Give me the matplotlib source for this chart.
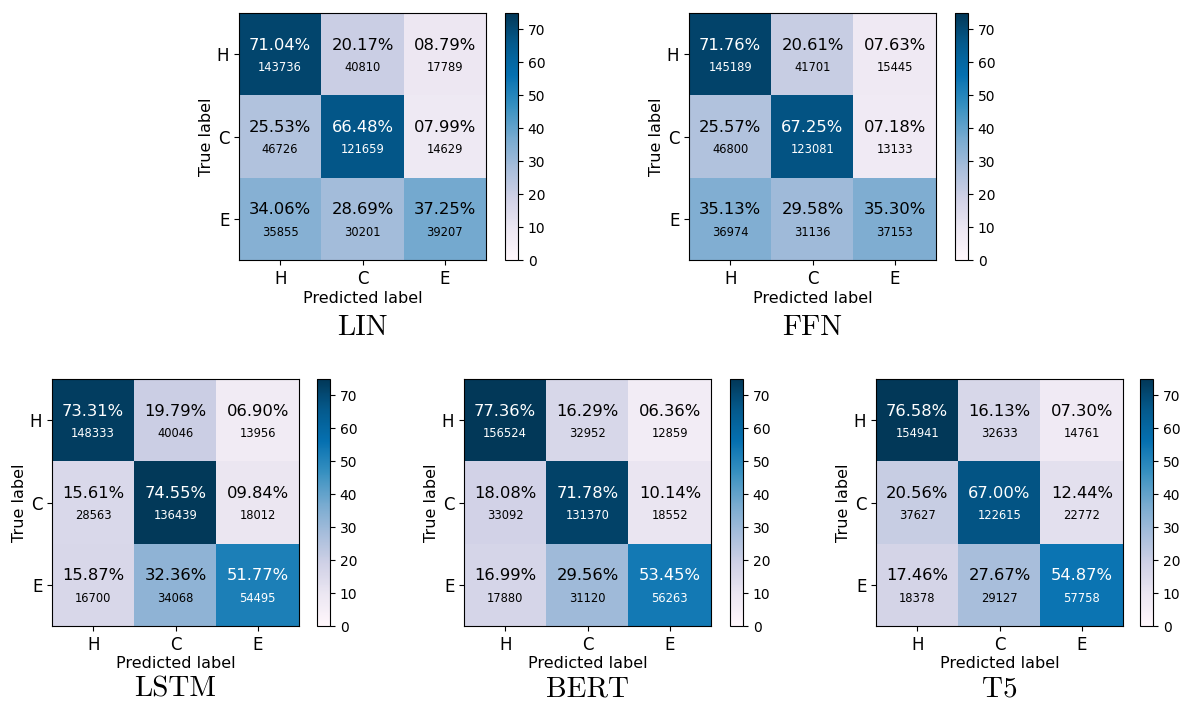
import numpy as np
import matplotlib
matplotlib.use("Agg")
import matplotlib.pyplot as plt

classes = ["H", "C", "E"]
model_names = ["LIN", "FFN", "LSTM", "BERT", "T5"]

lin_pct = [[71.04, 20.17, 8.79], [25.53, 66.48, 7.99], [34.06, 28.69, 37.25]]
lin_cnt = [[143736, 40810, 17789], [46726, 121659, 14629], [35855, 30201, 39207]]

ffn_pct = [[71.76, 20.61, 7.63], [25.57, 67.25, 7.18], [35.13, 29.58, 35.30]]
ffn_cnt = [[145189, 41701, 15445], [46800, 123081, 13133], [36974, 31136, 37153]]

lstm_pct = [[73.31, 19.79, 6.90], [15.61, 74.55, 9.84], [15.87, 32.36, 51.77]]
lstm_cnt = [[148333, 40046, 13956], [28563, 136439, 18012], [16700, 34068, 54495]]

bert_pct = [[77.36, 16.29, 6.36], [18.08, 71.78, 10.14], [16.99, 29.56, 53.45]]
bert_cnt = [[156524, 32952, 12859], [33092, 131370, 18552], [17880, 31120, 56263]]

t5_pct = [[76.58, 16.13, 7.30], [20.56, 67.00, 12.44], [17.46, 27.67, 54.87]]
t5_cnt = [[154941, 32633, 14761], [37627, 122615, 22772], [18378, 29127, 57758]]

percentages = [lin_pct, ffn_pct, lstm_pct, bert_pct, t5_pct]
counts = [lin_cnt, ffn_cnt, lstm_cnt, bert_cnt, t5_cnt]
cbar_ticks = [0, 10, 20, 30, 40, 50, 60, 70]

W, H = 1181, 706
fig = plt.figure(figsize=(W / 100, H / 100), dpi=100)

# pixel boxes: (heatmap left, heatmap top, colorbar left, caption offset)
panels = [
    (239, 13, 505, -0.275),
    (689, 13, 955, -0.275),
    (52, 379, 317, -0.257),
    (464, 379, 730, -0.257),
    (876, 379, 1140, -0.257),
]
side = 247
cb_w = 13


def px_rect(x, y, w, h):
    return [x / W, 1 - (y + h) / H, w / W, h / H]


for name, pct, cnt, (x0, y0, cbx, cap_y) in zip(model_names, percentages, counts, panels):
    ax = fig.add_axes(px_rect(x0, y0, side, side))
    cax = fig.add_axes(px_rect(cbx, y0, cb_w, side))
    data = np.array(pct)
    im = ax.imshow(data, cmap="PuBu", vmin=0, vmax=75, aspect="auto")
    for i in range(3):
        for j in range(3):
            v = data[i, j]
            col = "white" if v > 45 else "black"
            ax.text(j, i - 0.11, f"{v:05.2f}%", ha="center", va="center",
                    fontsize=11.8, color=col)
            ax.text(j, i + 0.16, f"{cnt[i][j]}", ha="center", va="center",
                    fontsize=8.3, color=col)
    ax.set_xticks(range(3))
    ax.set_yticks(range(3))
    ax.set_xticklabels(classes, fontsize=12)
    ax.set_yticklabels(classes, fontsize=12)
    ax.set_xlabel("Predicted label", fontsize=11.5, labelpad=2)
    ax.set_ylabel("True label", fontsize=11.5, labelpad=2)
    cb = fig.colorbar(im, cax=cax, ticks=cbar_ticks)
    cb.ax.tick_params(labelsize=10)
    ax.text(0.5, cap_y, name, transform=ax.transAxes, ha="center", va="center",
            fontsize=21, family="cmr10")

fig.savefig("out.png", dpi=100)
